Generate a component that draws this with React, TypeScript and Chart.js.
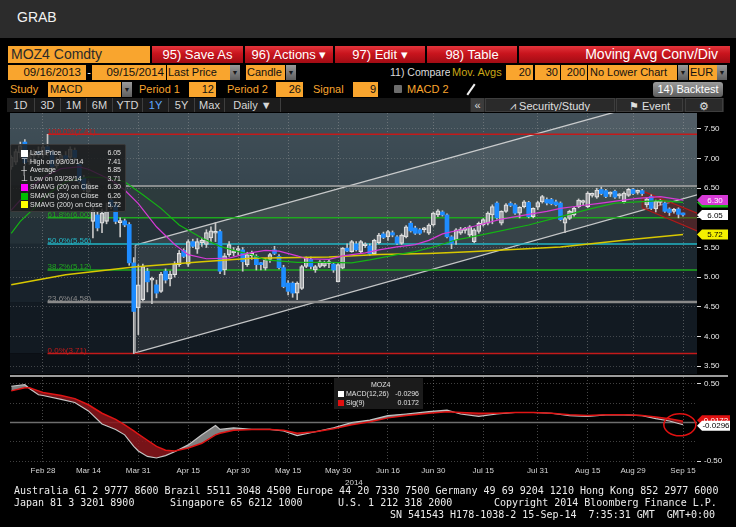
import React, { useEffect, useRef } from "react";
import { Chart, registerables } from "chart.js";

Chart.register(...registerables);

const FONT = '"Liberation Sans", Arial, sans-serif';
const MONO = '"DejaVu Sans Mono", "Liberation Mono", monospace';

// ---------------- data ----------------
// trading-day index: 0 = Feb 28 2014, candles run from index -7 to 141 (Sep 15)
const FIRST_DAY = -7;

const opens = [
  6.86, 6.94, 7.10, 7.28, 6.95, 7.05, 7.12, 7.06, 7.20, 7.12, 6.88, 6.95, 7.05, 7.02, 7.14, 6.90, 6.68, 6.44,
  5.94, 6.05, 5.91, 5.94, 6.30, 6.22, 5.92, 5.95, 5.89, 5.24,
  4.48, 4.62, 5.10, 4.95, 4.87, 4.76, 5.10, 4.97, 5.04, 5.21,
  5.45, 5.22, 5.60, 5.47, 5.58, 5.55, 5.66, 5.74, 5.77, 5.12,
  5.38, 5.41, 5.45, 5.46, 5.21, 5.36, 5.35, 5.22, 5.15, 5.30,
  5.46, 5.35, 5.16, 4.90, 4.90, 4.73, 4.81, 5.18, 5.30, 5.12,
  5.18, 5.19, 5.23, 5.22, 4.92, 5.15, 5.49, 5.43, 5.56, 5.43,
  5.53, 5.53, 5.39, 5.58, 5.73, 5.68, 5.75, 5.68, 5.57, 5.68,
  5.91, 5.83, 5.80, 5.80, 5.74, 5.88, 6.05, 6.10, 6.05, 5.68,
  5.63, 5.74, 5.79, 5.71, 5.60, 5.77, 5.88, 5.91, 6.05, 6.25,
  5.91, 6.11, 6.24, 6.22, 6.08, 6.19, 6.26, 6.02, 6.18, 6.27,
  6.31, 6.31, 6.27, 6.25, 5.91, 5.99, 6.05, 6.19, 6.26, 6.19,
  6.38, 6.35, 6.48, 6.46, 6.40, 6.45, 6.37, 6.27, 6.38, 6.48,
  6.43, 6.46, 6.22, 6.36, 6.15, 6.26, 6.25, 6.15, 6.11, 6.15, 6.06,
];
const highs = [
  7.05, 7.16, 7.28, 7.32, 7.10, 7.15, 7.20, 7.25, 7.41, 7.15, 7.02, 7.08, 7.12, 7.20, 7.18, 6.95, 6.72, 6.62,
  6.20, 6.10, 6.15, 6.25, 6.35, 6.28, 6.00, 5.98, 5.92, 5.33,
  5.21, 5.22, 5.15, 5.00, 4.95, 5.08, 5.14, 5.10, 5.26, 5.45,
  5.48, 5.63, 5.64, 5.65, 5.66, 5.80, 5.85, 5.92, 5.80, 5.40,
  5.60, 5.50, 5.52, 5.50, 5.42, 5.44, 5.38, 5.25, 5.31, 5.40,
  5.52, 5.38, 5.20, 4.94, 4.92, 4.92, 5.20, 5.34, 5.34, 5.20,
  5.28, 5.27, 5.30, 5.25, 5.23, 5.50, 5.56, 5.62, 5.60, 5.62,
  5.58, 5.56, 5.64, 5.74, 5.76, 5.79, 5.78, 5.70, 5.73, 5.87,
  5.94, 5.86, 5.82, 5.84, 5.90, 6.10, 6.14, 6.12, 6.07, 5.70,
  5.82, 5.84, 5.84, 5.87, 5.82, 5.93, 5.99, 6.10, 6.22, 6.27,
  6.12, 6.24, 6.27, 6.24, 6.19, 6.29, 6.28, 6.17, 6.28, 6.38,
  6.34, 6.33, 6.30, 6.27, 6.01, 6.13, 6.18, 6.32, 6.30, 6.44,
  6.42, 6.50, 6.52, 6.48, 6.44, 6.47, 6.41, 6.44, 6.50, 6.50,
  6.47, 6.48, 6.34, 6.39, 6.30, 6.31, 6.27, 6.17, 6.16, 6.17, 6.08,
];
const lows = [
  6.82, 6.90, 7.02, 6.88, 6.90, 6.98, 7.02, 7.02, 7.05, 6.82, 6.84, 6.90, 6.95, 6.98, 6.98, 6.58, 6.45, 6.38,
  5.66, 5.78, 5.75, 5.90, 6.15, 5.90, 5.68, 5.85, 5.20, 3.71,
  4.03, 4.60, 4.75, 4.55, 4.65, 4.74, 4.90, 4.85, 5.00, 5.18,
  5.33, 5.18, 5.50, 5.40, 5.52, 5.50, 5.60, 5.60, 5.06, 5.04,
  5.35, 5.36, 5.38, 5.10, 5.18, 5.30, 5.12, 5.12, 5.12, 5.25,
  5.38, 5.14, 4.82, 4.70, 4.66, 4.62, 4.79, 5.16, 5.14, 5.08,
  5.16, 5.17, 5.16, 5.08, 4.92, 5.14, 5.43, 5.42, 5.44, 5.40,
  5.50, 5.37, 5.38, 5.56, 5.65, 5.62, 5.68, 5.55, 5.55, 5.66,
  5.76, 5.72, 5.72, 5.76, 5.72, 5.86, 6.02, 6.03, 5.66, 5.48,
  5.55, 5.72, 5.74, 5.68, 5.58, 5.74, 5.86, 5.88, 5.90, 5.98,
  5.88, 6.09, 6.19, 6.06, 6.00, 6.17, 6.00, 6.00, 6.14, 6.25,
  6.22, 6.22, 6.20, 5.95, 5.75, 5.97, 6.03, 6.17, 6.22, 6.17,
  6.35, 6.33, 6.39, 6.34, 6.36, 6.33, 6.33, 6.25, 6.36, 6.39,
  6.40, 6.38, 6.18, 6.14, 6.10, 6.22, 6.09, 6.04, 6.08, 6.00, 6.03,
];
const closes = [
  7.02, 7.12, 7.22, 6.93, 7.05, 7.12, 7.08, 7.20, 7.12, 6.86, 6.98, 7.05, 7.00, 7.16, 7.02, 6.62, 6.48, 6.58,
  6.13, 5.83, 6.08, 6.11, 6.20, 5.94, 5.95, 5.88, 5.24, 4.42,
  4.87, 5.18, 4.92, 4.96, 4.73, 5.05, 4.95, 5.05, 5.22, 5.40,
  5.35, 5.60, 5.52, 5.60, 5.62, 5.75, 5.78, 5.76, 5.10, 5.36,
  5.55, 5.43, 5.47, 5.26, 5.38, 5.40, 5.21, 5.21, 5.29, 5.38,
  5.40, 5.16, 4.84, 4.76, 4.73, 4.90, 5.18, 5.32, 5.18, 5.18,
  5.26, 5.25, 5.24, 5.12, 5.21, 5.49, 5.44, 5.60, 5.46, 5.60,
  5.54, 5.39, 5.62, 5.71, 5.67, 5.77, 5.71, 5.57, 5.71, 5.85,
  5.78, 5.74, 5.74, 5.81, 5.88, 6.08, 6.12, 6.05, 5.68, 5.57,
  5.80, 5.81, 5.80, 5.85, 5.80, 5.91, 5.97, 6.08, 6.19, 6.00,
  6.11, 6.22, 6.21, 6.08, 6.18, 6.27, 6.02, 6.16, 6.26, 6.36,
  6.25, 6.24, 6.22, 5.97, 5.99, 6.11, 6.16, 6.30, 6.27, 6.42,
  6.39, 6.47, 6.41, 6.36, 6.41, 6.35, 6.38, 6.42, 6.48, 6.41,
  6.44, 6.41, 6.32, 6.16, 6.28, 6.27, 6.11, 6.09, 6.12, 6.06, 6.05,
];

const dayTicks = [0, 10, 21, 32, 43, 54, 65, 76, 86, 97, 109, 120, 130, 141];
const dayTickLabels = ["Feb 28", "Mar 14", "Mar 31", "Apr 15", "Apr 30", "May 15", "May 30", "Jun 16", "Jun 30", "Jul 15", "Jul 31", "Aug 15", "Aug 29", "Sep 15"];
const priceTicks = [3.5, 4, 4.5, 5, 5.5, 6, 6.5, 7, 7.5];
const macdTicks = [-0.5, -0.25, 0, 0.25, 0.5];
const macdLabelTicks = [-0.5, 0.5];

const sma20Days = [-7, -5, -2, 1, 4, 8, 10, 15, 18, 21, 25, 29, 32, 36, 41, 45, 49, 52, 56, 58, 63, 66, 71, 74, 78, 82, 85, 88, 92, 96, 101, 107, 111, 114, 118, 123, 127, 131, 136, 141];
const sma20Vals = [6.13, 6.30, 6.56, 6.72, 6.83, 6.86, 6.82, 6.64, 6.47, 6.24, 5.85, 5.55, 5.38, 5.31, 5.32, 5.40, 5.45, 5.44, 5.36, 5.31, 5.30, 5.36, 5.41, 5.46, 5.51, 5.55, 5.62, 5.73, 5.80, 5.88, 5.98, 6.06, 6.11, 6.16, 6.20, 6.25, 6.29, 6.33, 6.36, 6.30];
const sma30Days = [-7, -5, -2, 1, 5, 10, 15, 18, 22, 26, 30, 35, 39, 43, 46, 49, 56, 63, 68, 72, 78, 82, 87, 91, 94, 99, 107, 114, 121, 126, 131, 136, 141];
const sma30Vals = [5.74, 5.94, 6.16, 6.40, 6.61, 6.69, 6.67, 6.61, 6.39, 6.16, 5.88, 5.66, 5.52, 5.43, 5.38, 5.29, 5.25, 5.25, 5.24, 5.29, 5.38, 5.43, 5.53, 5.63, 5.67, 5.75, 5.88, 6.02, 6.16, 6.25, 6.27, 6.29, 6.26];
const sma200Days = [-7, 5, 20, 35, 46, 63, 74, 85, 94, 114, 129, 141];
const sma200Vals = [4.87, 5.04, 5.17, 5.26, 5.32, 5.34, 5.38, 5.40, 5.43, 5.51, 5.63, 5.72];

const fibLevels = [7.41, 6.0, 5.56, 5.12, 4.58, 3.71];
const fibNames = ["100.0%", "61.8%", "50.0%", "38.2%", "23.6%", "0.0%"];
const fibStartDay = 1;
const resistanceLevel = 6.54;
const resistanceStartDay = 18;

const channelDays = [20.3, 144.1];
const channelLow = [3.72, 6.39];
const channelHigh = [5.54, 8.17];
const fallDays = [132, 144.1];
const fallHigh = [6.455, 6.08];
const fallLow = [6.17, 5.78];

const flagValues = [6.26, 6.30, 6.05, 5.72];

const macdDays = [-7, -4, -3, -1, 0, 4, 7, 10, 13, 16, 18, 20, 21, 23, 25, 27, 29, 32, 35, 38, 39, 42, 46, 50, 53, 56, 60, 64, 68, 72, 76, 80, 85, 89, 92, 96, 100, 104, 108, 112, 116, 120, 124, 128, 132, 135, 138, 141];
const macdVals = [0.47, 0.49, 0.44, 0.36, 0.35, 0.30, 0.26, 0.15, -0.02, -0.09, -0.16, -0.31, -0.37, -0.44, -0.46, -0.43, -0.38, -0.29, -0.16, -0.04, -0.09, -0.07, -0.09, -0.09, -0.11, -0.17, -0.12, -0.07, 0.0, 0.03, 0.09, 0.11, 0.14, 0.16, 0.11, 0.08, 0.11, 0.13, 0.13, 0.12, 0.09, 0.08, 0.10, 0.10, 0.09, 0.05, 0.02, -0.0296];
const signalVals = [0.41, 0.45, 0.45, 0.41, 0.39, 0.35, 0.31, 0.23, 0.12, 0.04, -0.03, -0.11, -0.15, -0.23, -0.31, -0.36, -0.37, -0.33, -0.27, -0.16, -0.14, -0.10, -0.09, -0.09, -0.10, -0.14, -0.12, -0.08, -0.03, 0.01, 0.06, 0.09, 0.12, 0.14, 0.13, 0.12, 0.12, 0.13, 0.13, 0.12, 0.10, 0.09, 0.10, 0.10, 0.09, 0.07, 0.05, 0.0172];
const macdLast = -0.0296;
const signalLast = 0.0172;

const legendNames = ["Last Price", "High on 03/03/14", "Average", "Low on 03/28/14", "SMAVG (20) on Close", "SMAVG (30) on Close", "SMAVG (200) on Close"];
const legendValues = [6.05, 7.41, 5.85, 3.71, 6.30, 6.26, 5.72];

// ---------------- styles ----------------
const X_MIN = -7.27;
const X_MAX = 144.08;
const COL = {
  magenta: "#d63ad6",
  green: "#14b414",
  yellow: "#d8c800",
  blue: "#1e8cff",
  orange: "#f9a52e",
  upFill: "rgba(120,125,130,0.45)",
  upEdge: "#e4e4e4",
  wick: "#c6c6c6",
};
const fibColors = ["#c41a1a", "#1fa81f", "#22b6c6", "#1fa81f", "#8a8a8a", "#c41a1a"];
const fibWidths = [1.5, 1.5, 1.5, 1.5, 2.5, 1.5];
const flagColors = [COL.green, COL.magenta, "#ffffff", "#f4f000"];
const flagText = ["#ffffff", "#ffffff", "#000000", "#000000"];
const bandEdges = [6.54, 6.0, 5.56, 5.12, 4.58, 3.71];
const bandColors = ["#37464f", "#2d3b3d", "#243138", "#1c2830", "#18222b", "#121a22", "#0c1117"];

function drawFlag(ctx: any, x: number, y: number, fill: string, text: string, tc: string, w = 31) {
  ctx.beginPath();
  ctx.moveTo(x, y);
  ctx.lineTo(x + 5, y - 5);
  ctx.lineTo(x + w, y - 5);
  ctx.lineTo(x + w, y + 5);
  ctx.lineTo(x + 5, y + 5);
  ctx.closePath();
  ctx.fillStyle = fill;
  ctx.fill();
  ctx.fillStyle = tc;
  ctx.font = `8px ${FONT}`;
  ctx.textAlign = "center";
  ctx.textBaseline = "middle";
  ctx.fillText(text, x + (w + 5) / 2, y + 0.5);
}

const xAxis = (labels: boolean) => ({
  type: "linear",
  min: X_MIN,
  max: X_MAX,
  offset: false,
  afterBuildTicks: (s: any) => {
    s.ticks = dayTicks.map((v) => ({ value: v }));
  },
  ticks: {
    display: labels,
    autoSkip: false,
    maxRotation: 0,
    color: "#d4d4d4",
    font: { size: 8, family: FONT },
    padding: 3,
    callback: (v: any) => {
      const i = dayTicks.indexOf(v);
      return i >= 0 ? dayTickLabels[i] : "";
    },
  },
  grid: { color: "rgba(160,160,160,0.45)", drawTicks: false, offset: false },
  border: { display: false, dash: [1, 2] },
  afterFit: (s: any) => {
    s.paddingLeft = 0;
    s.paddingRight = 0;
    s.height = labels ? 17 : 0;
  },
});

function Box(p: any) {
  return (
    <div
      style={{
        position: "absolute",
        left: p.x,
        top: p.y,
        width: p.w,
        height: p.h,
        background: p.bg,
        color: p.color || "#111",
        fontSize: p.size || 11,
        lineHeight: p.h + "px",
        textAlign: p.align || "left",
        padding: `0 ${p.pad ?? 3}px`,
        boxSizing: "border-box",
        whiteSpace: "nowrap",
        overflow: "hidden",
        fontFamily: FONT,
        borderRadius: p.radius || 0,
        border: p.border,
      }}
    >
      {p.text}
    </div>
  );
}

const Arrow = ({ x, y, h }: any) => (
  <div
    style={{
      position: "absolute",
      left: x,
      top: y,
      width: 10,
      height: h,
      background: "linear-gradient(#9a9a9a,#5e5e5e)",
      color: "#1a1a1a",
      fontSize: 7,
      lineHeight: h + "px",
      textAlign: "center",
      fontFamily: FONT,
    }}
  >
    ▼
  </div>
);

const redBtn = "linear-gradient(#e3343b 0%, #c8141d 45%, #a20c14 100%)";
const tabStyle = (x: number, w: number, text: string, color = "#d6d6d6") => (
  <div
    key={text}
    style={{
      position: "absolute",
      left: x,
      top: 98,
      width: w,
      height: 14,
      lineHeight: "14px",
      textAlign: "center",
      color,
      fontSize: 11,
      fontFamily: FONT,
      background: "#1c1c1c",
      borderRight: "1px solid #3e3e3e",
      boxSizing: "border-box",
    }}
  >
    {text}
  </div>
);

export default function App() {
  const mainRef = useRef<HTMLCanvasElement>(null);
  const macdRef = useRef<HTMLCanvasElement>(null);

  useEffect(() => {
    const days = opens.map((_, i) => FIRST_DAY + i);
    const up = closes.map((c, i) => c >= opens[i]);
    const pts = (xs: number[], ys: number[]) => xs.map((x, i) => ({ x, y: ys[i] }));
    const line = (data: any, color: string, width: number, order: number, extra: any = {}) => ({
      type: "line",
      data,
      borderColor: color,
      borderWidth: width,
      pointRadius: 0,
      fill: false,
      tension: 0,
      order,
      ...extra,
    });

    const fibSets = fibLevels.map((lv, i) =>
      line([{ x: fibStartDay, y: lv }, { x: X_MAX, y: lv }], fibColors[i], fibWidths[i], 15)
    );

    const bandPlugin = {
      id: "bands",
      beforeDraw(chart: any) {
        const { ctx, chartArea: a, scales } = chart;
        const y = scales.y;
        const edges = [a.top, ...bandEdges.map((v) => y.getPixelForValue(v)), a.bottom];
        ctx.save();
        for (let i = 0; i < bandColors.length; i++) {
          ctx.fillStyle = bandColors[i];
          ctx.fillRect(a.left, edges[i], a.right - a.left, edges[i + 1] - edges[i]);
        }
        const g = ctx.createLinearGradient(0, a.top, 0, edges[1]);
        g.addColorStop(0, "rgba(255,255,255,0.05)");
        g.addColorStop(1, "rgba(255,255,255,0)");
        ctx.fillStyle = g;
        ctx.fillRect(a.left, a.top, a.right - a.left, edges[1] - a.top);
        ctx.restore();
      },
    };

    const fibLabelPlugin = {
      id: "fibLabels",
      afterDatasetsDraw(chart: any) {
        const { ctx, scales } = chart;
        ctx.save();
        ctx.font = `8px ${FONT}`;
        ctx.textBaseline = "bottom";
        ctx.textAlign = "left";
        fibLevels.forEach((lv, i) => {
          ctx.fillStyle = fibColors[i];
          ctx.fillText(`${fibNames[i]}(${lv.toFixed(2)})`, scales.x.getPixelForValue(fibStartDay), scales.y.getPixelForValue(lv) + 1);
        });
        ctx.restore();
      },
    };

    const flagPlugin = {
      id: "flags",
      afterDraw(chart: any) {
        const { ctx, chartArea: a, scales } = chart;
        ctx.save();
        flagValues.forEach((v, i) => {
          drawFlag(ctx, a.right, scales.y.getPixelForValue(v), flagColors[i], v.toFixed(2), flagText[i]);
        });
        ctx.restore();
      },
    };

    const main = new Chart(mainRef.current as any, {
      type: "bar",
      data: {
        datasets: [
          line(pts(channelDays, channelLow), "rgba(225,225,225,0.85)", 1.3, 20),
          line(pts(channelDays, channelHigh), "rgba(225,225,225,0.85)", 1.3, 20, {
            fill: "-1",
            backgroundColor: "rgba(255,255,255,0.09)",
          }),
          line(
            [
              { x: channelDays[0], y: channelLow[0] },
              { x: channelDays[0], y: channelHigh[0] },
            ],
            "rgba(225,225,225,0.85)",
            1,
            20
          ),
          ...fibSets,
          line([{ x: resistanceStartDay, y: resistanceLevel }, { x: X_MAX, y: resistanceLevel }], "#a8a8a8", 1.5, 15),
          line(pts(fallDays, fallLow), "#b01a1a", 1.2, 14),
          line(pts(fallDays, fallHigh), "#b01a1a", 1.2, 14, {
            fill: "-1",
            backgroundColor: "rgba(120,25,25,0.45)",
          }),
          line(
            [
              { x: fallDays[0], y: fallLow[0] },
              { x: fallDays[0], y: fallHigh[0] },
            ],
            "#b01a1a",
            1,
            14
          ),
          {
            type: "bar",
            data: days.map((d, i) => ({ x: d, y: [lows[i], highs[i]] })),
            backgroundColor: COL.wick,
            barThickness: 1,
            grouped: false,
            order: 6,
          },
          {
            type: "bar",
            data: days.map((d, i) => ({ x: d, y: [opens[i], closes[i]] })),
            backgroundColor: up.map((u) => (u ? COL.upFill : COL.blue)),
            borderColor: up.map((u) => (u ? COL.upEdge : COL.blue)),
            borderWidth: up.map((u) => (u ? 1 : 0)),
            borderSkipped: false,
            barThickness: 4,
            minBarLength: 2,
            grouped: false,
            order: 5,
          },
          line(pts(sma200Days, sma200Vals), COL.yellow, 1.5, 3),
          line(pts(sma30Days, sma30Vals), COL.green, 1.2, 2),
          line(pts(sma20Days, sma20Vals), COL.magenta, 1.2, 1),
        ] as any,
      },
      options: {
        responsive: false,
        maintainAspectRatio: false,
        animation: false,
        events: [],
        layout: { padding: 0 },
        plugins: { legend: { display: false }, tooltip: { enabled: false } },
        scales: {
          x: xAxis(false) as any,
          y: {
            type: "linear",
            position: "right",
            min: 3.365,
            max: 7.77,
            afterBuildTicks: (s: any) => {
              s.ticks = priceTicks.map((v) => ({ value: v }));
            },
            ticks: {
              color: "#e8e8e8",
              font: { size: 8, family: FONT },
              padding: 3,
              callback: (v: any) => Number(v).toFixed(2),
            },
            grid: {
              color: "rgba(160,160,160,0.35)",
              drawTicks: true,
              tickLength: 4,
              tickColor: "#d8d8d8",
              tickWidth: 1,
            },
            border: { display: false, dash: [1, 2] },
            afterFit: (s: any) => {
              s.width = 39;
              s.paddingTop = 0;
              s.paddingBottom = 0;
            },
          } as any,
        },
      },
      plugins: [bandPlugin, fibLabelPlugin, flagPlugin],
    });

    const macdPlugin = {
      id: "macdExtras",
      afterDraw(chart: any) {
        const { ctx, chartArea: a, scales } = chart;
        ctx.save();
        drawFlag(ctx, a.right, scales.y.getPixelForValue(signalLast) - 1, "#e01010", signalLast.toFixed(4), "#ffffff", 33);
        drawFlag(ctx, a.right, scales.y.getPixelForValue(macdLast) + 1, "#ffffff", macdLast.toFixed(4), "#000000", 33);
        ctx.beginPath();
        ctx.ellipse(scales.x.getPixelForValue(140.3), scales.y.getPixelForValue(-0.03), 16, 11, 0, 0, Math.PI * 2);
        ctx.strokeStyle = "#e01010";
        ctx.lineWidth = 1.5;
        ctx.stroke();
        ctx.restore();
      },
    };

    const macd = new Chart(macdRef.current as any, {
      type: "line",
      data: {
        datasets: [
          line([{ x: X_MIN, y: 0 }, { x: X_MAX, y: 0 }], "#6e6e6e", 1.5, 3),
          line(pts(macdDays, signalVals), "#e01414", 1.5, 0),
          line(pts(macdDays, macdVals), "#c4c4c4", 1.2, 1, {
            fill: { target: 1, above: "rgba(150,150,150,0.85)", below: "rgba(140,22,28,0.85)" },
          }),
        ] as any,
      },
      options: {
        responsive: false,
        maintainAspectRatio: false,
        animation: false,
        events: [],
        layout: { padding: 0 },
        plugins: { legend: { display: false }, tooltip: { enabled: false } },
        scales: {
          x: xAxis(true) as any,
          y: {
            type: "linear",
            position: "right",
            min: -0.525,
            max: 0.59,
            afterBuildTicks: (s: any) => {
              s.ticks = macdTicks.map((v) => ({ value: v }));
            },
            ticks: {
              color: "#e8e8e8",
              font: { size: 8, family: FONT },
              padding: 3,
              callback: (v: any) => (macdLabelTicks.includes(Number(v)) ? Number(v).toFixed(2) : ""),
            },
            grid: {
              color: (c: any) => (c.tick && c.tick.value === 0 ? "rgba(0,0,0,0)" : "rgba(160,160,160,0.4)"),
              drawTicks: true,
              tickLength: 4,
              tickColor: (c: any) => (c.tick && macdLabelTicks.includes(c.tick.value) ? "#d8d8d8" : "rgba(0,0,0,0)"),
            },
            border: { display: false, dash: [1, 2] },
            afterFit: (s: any) => {
              s.width = 39;
              s.paddingTop = 0;
              s.paddingBottom = 0;
            },
          } as any,
        },
      },
      plugins: [macdPlugin],
    });

    return () => {
      main.destroy();
      macd.destroy();
    };
  }, []);

  const legendIcons = [
    <div style={{ width: 7, height: 7, background: "#fff" }} />,
    <span style={{ color: "#fff", fontSize: 8 }}>⊤</span>,
    <span style={{ color: "#fff", fontSize: 8 }}>┼</span>,
    <span style={{ color: "#fff", fontSize: 8 }}>⊥</span>,
    <div style={{ width: 7, height: 7, background: "#ff00ff" }} />,
    <div style={{ width: 7, height: 7, background: "#00c000" }} />,
    <div style={{ width: 7, height: 7, background: "#ffff00" }} />,
  ];

  return (
    <div style={{ position: "absolute", left: 0, top: 0, width: 736, height: 527, background: "#000", overflow: "hidden", fontFamily: FONT }}>
      {/* header */}
      <div style={{ position: "absolute", left: 0, top: 0, width: 736, height: 38, background: "#2c2c2c" }} />
      <div style={{ position: "absolute", left: 17, top: 9, color: "#f2f2f2", fontSize: 14, fontFamily: FONT }}>GRAB</div>

      {/* row 1 */}
      <Box x={8} y={46} w={142} h={17} bg={COL.orange} text="MOZ4 Comdty" size={14} color="#2a2a2a" />
      <Box x={152} y={46} w={91} h={17} bg={redBtn} text="95) Save As" size={13} color="#fff" align="center" />
      <Box x={245} y={46} w={88} h={17} bg={redBtn} text="96) Actions ▾" size={13} color="#fff" align="center" />
      <Box x={335} y={46} w={90} h={17} bg={redBtn} text="97) Edit  ▾" size={13} color="#fff" align="center" />
      <Box x={427} y={46} w={90} h={17} bg={redBtn} text="98) Table" size={13} color="#fff" align="center" />
      <Box x={519} y={46} w={211} h={17} bg={redBtn} text="Moving Avg Conv/Div" size={14} color="#fff" align="right" pad={12} />

      {/* row 2 */}
      <Box x={8} y={65} w={78} h={15} bg={COL.orange} text="09/16/2013" size={11.5} align="right" pad={5} />
      <Box x={86} y={65} w={6} h={15} text="-" size={11} color="#fff" pad={0} align="center" />
      <Box x={92} y={65} w={74} h={15} bg={COL.orange} text="09/15/2014" size={11.5} align="right" pad={2} />
      <Box x={167} y={65} w={63} h={15} bg={COL.orange} text="Last Price" size={11} pad={1} />
      <Arrow x={230} y={65} h={15} />
      <Box x={246} y={65} w={39} h={15} bg={COL.orange} text="Candle" size={11} pad={1} />
      <Arrow x={286} y={65} h={15} />
      <Box x={388} y={65} w={62} h={15} text="11) Compare" size={10.5} color="#dcdcdc" pad={2} />
      <Box x={450} y={65} w={56} h={15} text="Mov. Avgs" size={11} color="#c9a616" pad={2} />
      <Box x={506} y={65} w={27} h={15} bg={COL.orange} text="20" size={11} align="right" pad={2} />
      <Box x={535} y={65} w={25} h={15} bg={COL.orange} text="30" size={11} align="right" pad={2} />
      <Box x={561} y={65} w={26} h={15} bg={COL.orange} text="200" size={11} align="right" pad={2} />
      <Box x={588} y={65} w={89} h={15} bg={COL.orange} text="No Lower Chart" size={11} pad={2} />
      <Arrow x={678} y={65} h={15} />
      <Box x={689} y={65} w={28} h={15} bg={COL.orange} text="EUR" size={11} pad={1} />
      <Arrow x={717} y={65} h={15} />

      {/* row 3 */}
      <Box x={8} y={82} w={40} h={15} text="Study" size={11} color={COL.orange} pad={2} />
      <Box x={48} y={82} w={73} h={15} bg={COL.orange} text="MACD" size={11} pad={2} />
      <Arrow x={122} y={82} h={15} />
      <Box x={137} y={82} w={50} h={15} text="Period 1" size={11} color={COL.orange} pad={2} />
      <Box x={189} y={82} w={27} h={15} bg={COL.orange} text="12" size={11} align="right" pad={2} />
      <Box x={225} y={82} w={50} h={15} text="Period 2" size={11} color={COL.orange} pad={2} />
      <Box x={276} y={82} w={27} h={15} bg={COL.orange} text="26" size={11} align="right" pad={2} />
      <Box x={311} y={82} w={40} h={15} text="Signal" size={11} color={COL.orange} pad={2} />
      <Box x={353} y={82} w={25} h={15} bg={COL.orange} text="9" size={11} align="right" pad={2} />
      <div style={{ position: "absolute", left: 394, top: 85, width: 8, height: 8, background: "#6c6c6c", borderRadius: 1 }} />
      <Box x={405} y={82} w={50} h={15} text="MACD 2" size={11} color={COL.orange} pad={2} />
      <div style={{ position: "absolute", left: 470, top: 83, width: 2, height: 13, background: "#f0f0f0", transform: "rotate(35deg)" }} />
      <Box x={653} y={82} w={70} h={15} bg="linear-gradient(#9c9c9c,#5c5c5c)" text="14) Backtest" size={11} color="#fff" align="center" radius={3} />

      {/* row 4 */}
      <div style={{ position: "absolute", left: 7, top: 98, width: 463, height: 14, background: "#161616" }} />
      {tabStyle(7, 28, "1D")}
      {tabStyle(35, 26, "3D")}
      {tabStyle(61, 26, "1M")}
      {tabStyle(87, 26, "6M")}
      {tabStyle(113, 30, "YTD")}
      {tabStyle(143, 26, "1Y", "#5fa8ff")}
      {tabStyle(169, 26, "5Y")}
      {tabStyle(195, 30, "Max")}
      {tabStyle(225, 56, "Daily ▼")}
      <div style={{ position: "absolute", left: 470, top: 98, width: 254, height: 14, background: "#262626" }} />
      <Box x={471} y={98} w={13} h={14} bg="#3c3c3c" text="«" size={11} color="#ddd" align="center" pad={0} />
      <Box x={485} y={98} w={130} h={14} bg="#2a2a2a" text="⩘  Security/Study" size={11} color="#e0e0e0" align="center" border="1px solid #3e3e3e" />
      <Box x={616} y={98} w={67} h={14} bg="#2a2a2a" text="⚑  Event" size={11} color="#e0e0e0" align="center" border="1px solid #3e3e3e" />
      <Box x={685} y={98} w={38} h={14} bg="#2a2a2a" text="⚙" size={11} color="#e0e0e0" align="center" border="1px solid #3e3e3e" />

      {/* charts */}
      <canvas ref={mainRef} width={726} height={261} style={{ position: "absolute", left: 10, top: 113, width: 726, height: 261 }} />
      <div style={{ position: "absolute", left: 10, top: 375, width: 718, height: 2, background: "#9c9c9c" }} />
      <canvas ref={macdRef} width={726} height={103} style={{ position: "absolute", left: 10, top: 377, width: 726, height: 103 }} />

      {/* price legend */}
      <div style={{ position: "absolute", left: 10, top: 144, width: 116, height: 68, background: "rgba(26,26,26,0.82)", border: "1px solid #3a3a3a", boxSizing: "border-box", borderRadius: 2 }}>
        {legendNames.map((n, i) => (
          <div key={n} style={{ position: "absolute", left: 0, top: 3 + i * 8.6, width: 114, height: 9, fontSize: 7, lineHeight: "9px", color: "#e0e0e0", fontFamily: FONT }}>
            <div style={{ position: "absolute", left: 9, top: 1, width: 8, height: 8, display: "flex", alignItems: "center", justifyContent: "center" }}>{legendIcons[i]}</div>
            <span style={{ position: "absolute", left: 19 }}>{n}</span>
            <span style={{ position: "absolute", right: 4 }}>{legendValues[i].toFixed(2)}</span>
          </div>
        ))}
      </div>

      {/* MACD legend */}
      <div style={{ position: "absolute", left: 334, top: 378, width: 89, height: 31, background: "#1b1b1b", fontFamily: FONT, fontSize: 7, color: "#e0e0e0" }}>
        <span style={{ position: "absolute", left: 37, top: 3 }}>MOZ4</span>
        <div style={{ position: "absolute", left: 4, top: 13, width: 6, height: 6, background: "#fff" }} />
        <span style={{ position: "absolute", left: 12, top: 12 }}>MACD(12,26)</span>
        <span style={{ position: "absolute", right: 4, top: 12 }}>{macdLast.toFixed(4)}</span>
        <div style={{ position: "absolute", left: 4, top: 22, width: 6, height: 6, background: "#e01010" }} />
        <span style={{ position: "absolute", left: 12, top: 21 }}>Sig(9)</span>
        <span style={{ position: "absolute", right: 4, top: 21 }}>{signalLast.toFixed(4)}</span>
      </div>

      <div style={{ position: "absolute", left: 345, top: 478, color: "#d4d4d4", fontSize: 8, fontFamily: FONT }}>2014</div>

      {/* footer */}
      <div style={{ position: "absolute", left: 14, top: 485, color: "#ececec", fontSize: 10, fontFamily: MONO, whiteSpace: "pre", lineHeight: "12px" }}>
        Australia 61 2 9777 8600 Brazil 5511 3048 4500 Europe 44 20 7330 7500 Germany 49 69 9204 1210 Hong Kong 852 2977 6000
      </div>
      <div style={{ position: "absolute", left: 14, top: 497, color: "#ececec", fontSize: 10, fontFamily: MONO, whiteSpace: "pre", lineHeight: "12px" }}>Japan 81 3 3201 8900</div>
      <div style={{ position: "absolute", left: 170, top: 497, color: "#ececec", fontSize: 10, fontFamily: MONO, whiteSpace: "pre", lineHeight: "12px" }}>Singapore 65 6212 1000</div>
      <div style={{ position: "absolute", left: 338, top: 497, color: "#ececec", fontSize: 10, fontFamily: MONO, whiteSpace: "pre", lineHeight: "12px" }}>U.S. 1 212 318 2000</div>
      <div style={{ position: "absolute", left: 494, top: 497, color: "#ececec", fontSize: 10, fontFamily: MONO, whiteSpace: "pre", lineHeight: "12px" }}>Copyright 2014 Bloomberg Finance L.P.</div>
      <div style={{ position: "absolute", right: 21, top: 509, color: "#ececec", fontSize: 10, fontFamily: MONO, whiteSpace: "pre", lineHeight: "12px" }}>SN 541543 H178-1038-2 15-Sep-14  7:35:31 GMT  GMT+0:00</div>
    </div>
  );
}
